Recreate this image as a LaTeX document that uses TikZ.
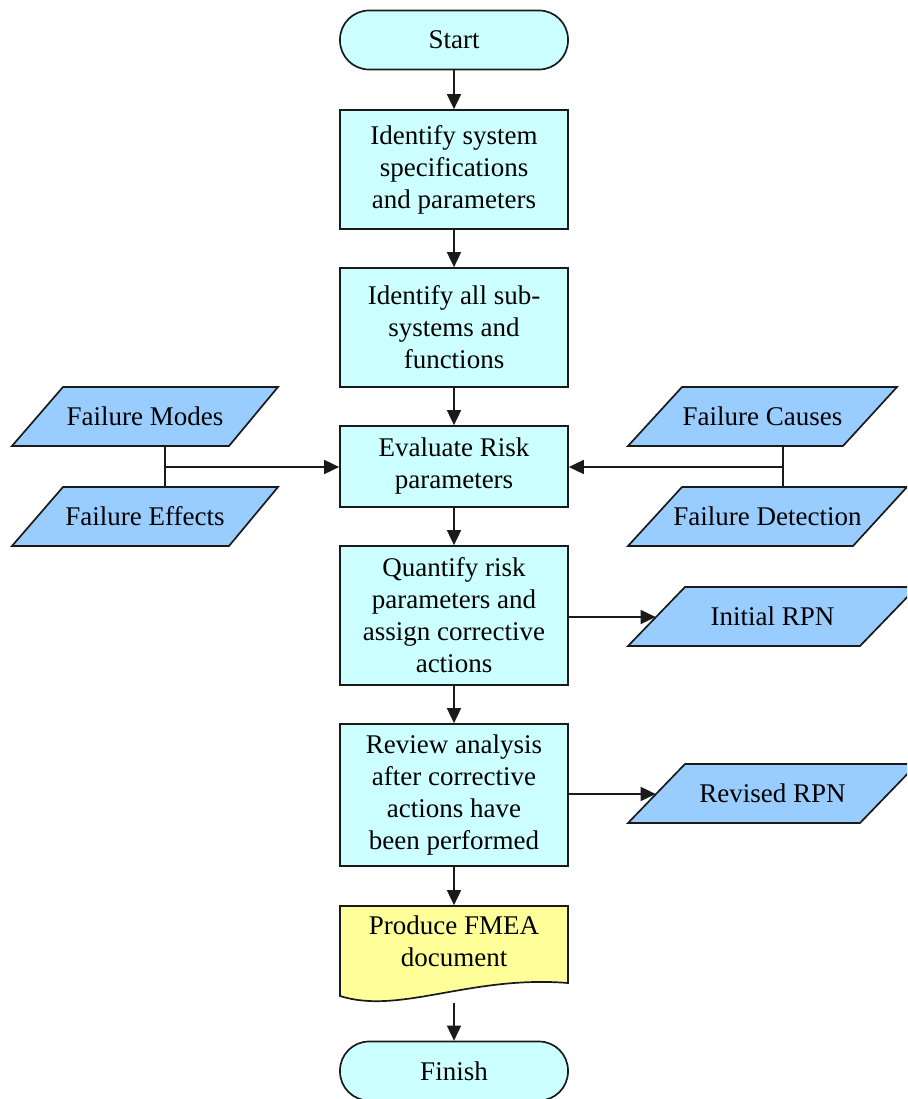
\documentclass[tikz,border=0pt]{standalone}
\usepackage{fontspec}
\setmainfont{Liberation Serif}
\usetikzlibrary{arrows.meta}
\definecolor{boxcyan}{HTML}{CCFFFF}
\definecolor{ioblue}{HTML}{99CCFF}
\definecolor{docyellow}{HTML}{FFFF99}
\definecolor{edgegray}{HTML}{1A1A1A}
\begin{document}
\begin{tikzpicture}[x=1pt,y=-1pt,line width=1.7pt,
    font=\fontsize{27}{32}\selectfont,
    term/.style={rectangle,rounded corners=29pt,draw=edgegray,fill=boxcyan,
        minimum width=228pt,minimum height=59pt},
    procbox/.style={rectangle,draw=edgegray,fill=boxcyan,align=center,
        minimum width=228pt,inner sep=0pt},
    iofill/.style={draw=edgegray,fill=ioblue},
    iotext/.style={rectangle,inner sep=0pt,minimum height=59pt},
    link/.style={draw=edgegray,-{Triangle[length=15pt,width=14pt]}},
    joinline/.style={draw=edgegray}]
    \clip (0,0) rectangle (907,1099);

    \node[term] (start) at (454,40) {Start};
    \node[procbox,minimum height=119pt] (ident) at (454,169.5)
        {Identify system\\specifications\\and parameters};
    \node[procbox,minimum height=119pt] (subsys) at (454,327.5)
        {Identify all sub-\\systems and\\functions};
    \node[procbox,minimum height=81pt] (evalrisk) at (454,466.5)
        {Evaluate Risk\\parameters};
    \node[procbox,minimum height=139pt] (quant) at (454,615.5)
        {Quantify risk\\parameters and\\assign corrective\\actions};
    \node[procbox,minimum height=142pt] (review) at (454,795)
        {Review analysis\\after corrective\\actions have\\been performed};

    \draw[draw=edgegray,fill=docyellow] (340,906) -- (568,906) -- (568,983)
        .. controls (470,975) and (400,1015) .. (340,996) -- cycle;
    \node[align=center,minimum width=228pt,minimum height=70pt] (doc) at (454,941)
        {Produce FMEA\\document};
    \coordinate (docb) at (454,1003);
    \node[term] (finish) at (454,1071) {Finish};

    \draw[iofill] (12,446) -- (63,387) -- (278,387) -- (229,446) -- cycle;
    \node[iotext] (modes) at (145,416.5) {Failure Modes};
    \draw[iofill] (12,546) -- (63,487) -- (278,487) -- (229,546) -- cycle;
    \node[iotext] (effects) at (145,516.5) {Failure Effects};
    \draw[iofill] (628,446) -- (682,387) -- (897,387) -- (843,446) -- cycle;
    \node[iotext] (causes) at (762.5,416.5) {Failure Causes};
    \draw[iofill] (628,546) -- (682,487) -- (907,487) -- (853,546) -- cycle;
    \node[iotext] (detect) at (767.5,516.5) {Failure Detection};
    \draw[iofill] (628,646) -- (685,587) -- (917,587) -- (860,646) -- cycle;
    \node[iotext,minimum width=232pt] (initrpn) at (772.5,616.5) {Initial RPN};
    \draw[iofill] (628,823) -- (685,764) -- (917,764) -- (860,823) -- cycle;
    \node[iotext,minimum width=232pt] (revrpn) at (772.5,793.5) {Revised RPN};

    \coordinate (mjoin) at (165,467);
    \coordinate (cjoin) at (783,467);
    \coordinate (qout) at (568,617);
    \coordinate (rout) at (568,794);

    \draw[link] (start) -- (ident);
    \draw[link] (ident) -- (subsys);
    \draw[link] (subsys) -- (evalrisk);
    \draw[link] (evalrisk) -- (quant);
    \draw[link] (quant) -- (review);
    \draw[link] (review) -- (doc);
    \draw[link] (docb) -- (finish);

    \draw[joinline] (mjoin |- modes.south) -- (mjoin |- effects.north);
    \draw[link] (mjoin) -- (mjoin -| evalrisk.west);
    \draw[joinline] (cjoin |- causes.south) -- (cjoin |- detect.north);
    \draw[link] (cjoin) -- (cjoin -| evalrisk.east);

    \draw[link] (qout) -- (qout -| initrpn.west);
    \draw[link] (rout) -- (rout -| revrpn.west);
\end{tikzpicture}
\end{document}
